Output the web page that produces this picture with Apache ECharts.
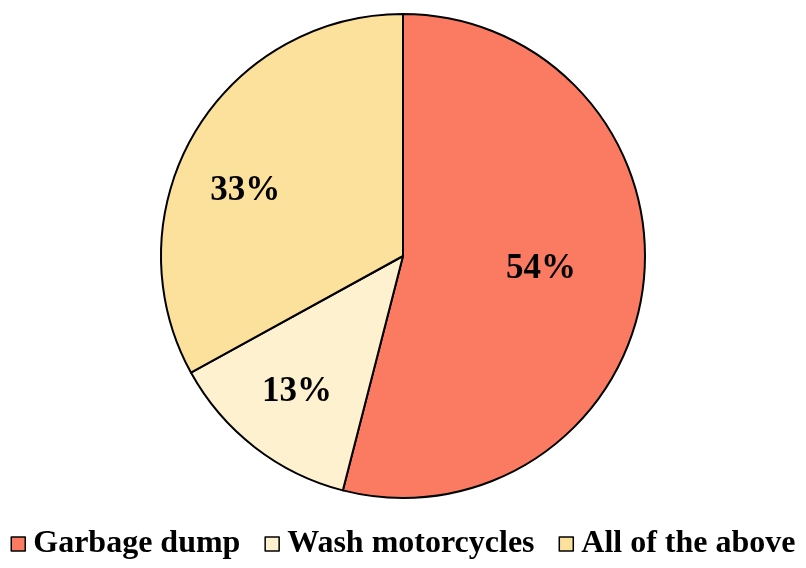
<!DOCTYPE html>
<html>
<head>
<meta charset="utf-8">
<script src="https://cdn.jsdelivr.net/npm/echarts@6/dist/echarts.min.js"></script>
<style>
  html, body { margin: 0; padding: 0; background: #fff; }
  #chart { width: 806px; height: 568px; }
</style>
</head>
<body>
<div id="chart"></div>
<script>
// slice data
const categories = ['Garbage dump', 'Wash motorcycles', 'All of the above'];
const values = [54, 13, 33];
const colors = ['#FA7B62', '#FEF1CF', '#FCE19C'];
// nudge labels outward like the original
const labelOffsets = [[15, -3], [-30, 38], [-51, -2]];

const myChart = echarts.init(document.getElementById('chart'));

const option = {
    animation: false,
    legend: {
        bottom: 3,
        left: 'center',
        itemWidth: 14,
        itemHeight: 14,
        itemGap: 24,
        icon: 'rect',
        itemStyle: { borderColor: '#000', borderWidth: 1.5 },
        textStyle: {
            fontFamily: 'Liberation Serif',
            fontWeight: 'bold',
            fontSize: 32,
            color: '#000',
            padding: [0, 0, 0, 3]
        },
        data: categories
    },
    series: [
        {
            type: 'pie',
            center: [403, 256],
            radius: 242,
            startAngle: 90,
            clockwise: true,
            itemStyle: { borderColor: '#000', borderWidth: 2 },
            label: {
                position: 'inside',
                formatter: '{c}%',
                fontFamily: 'Liberation Serif',
                fontWeight: 'bold',
                fontSize: 35,
                color: '#000'
            },
            labelLine: { show: false },
            emphasis: { disabled: true },
            data: categories.map((name, i) => ({
                name: name,
                value: values[i],
                itemStyle: { color: colors[i] },
                label: { offset: labelOffsets[i] }
            }))
        }
    ]
};

myChart.setOption(option);
</script>
</body>
</html>
